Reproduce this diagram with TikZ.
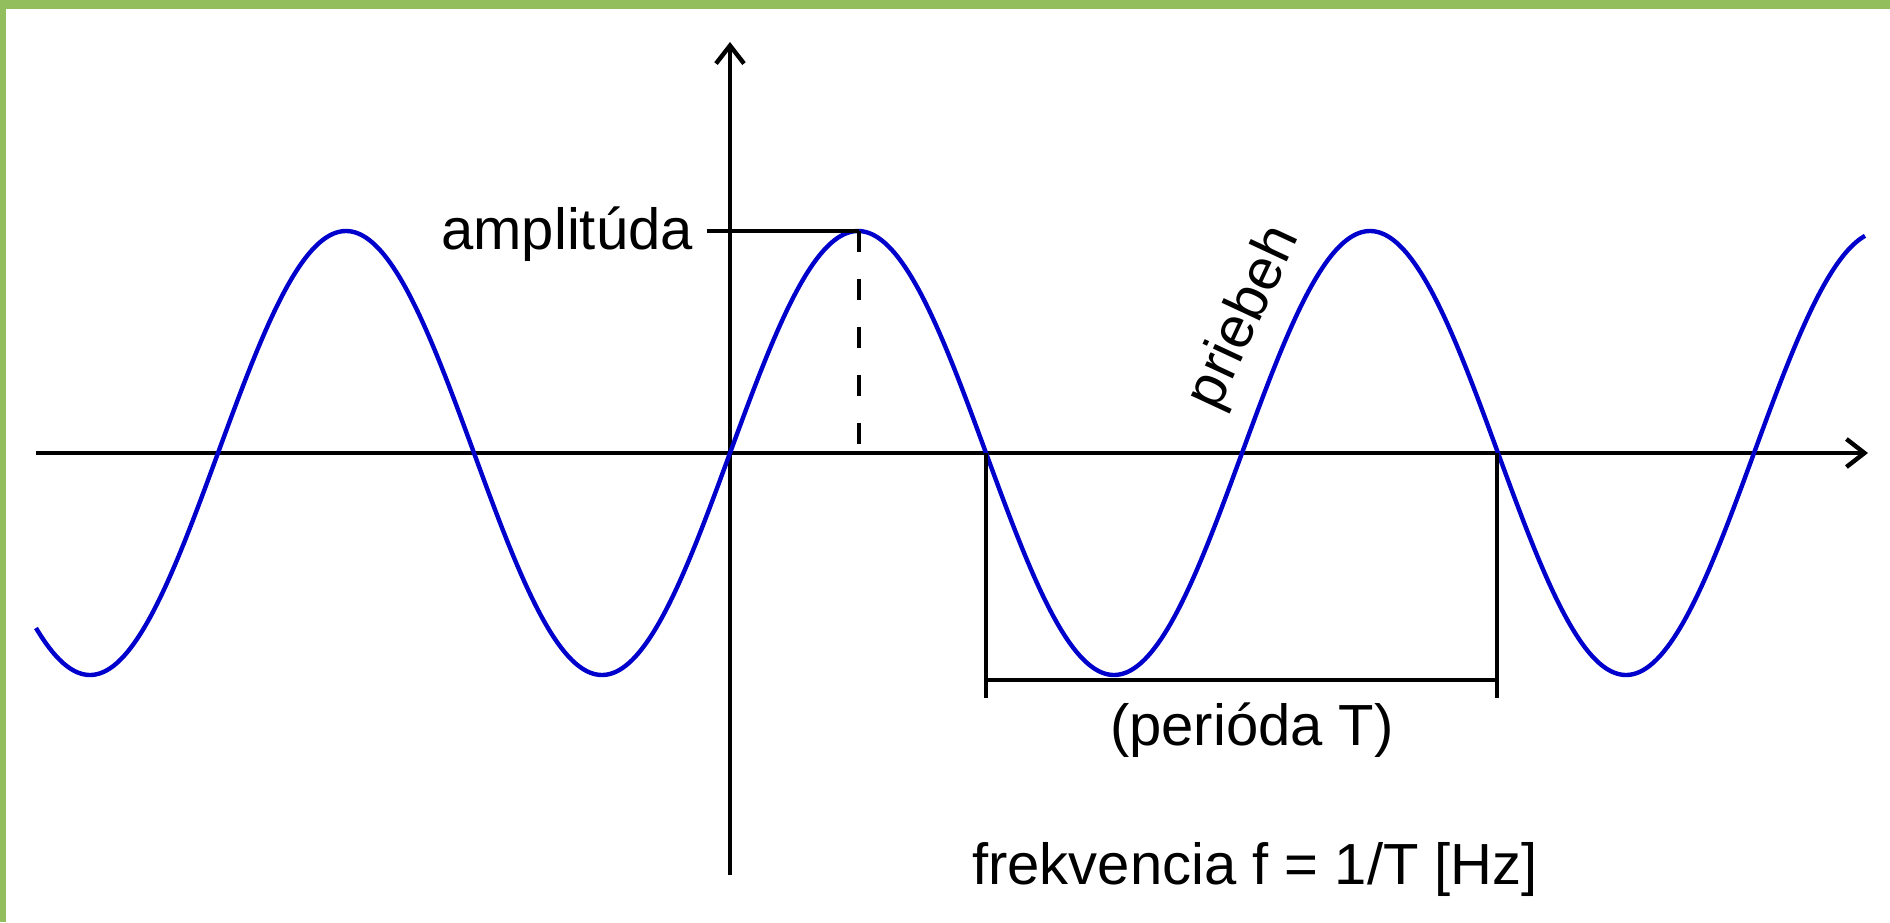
\documentclass[tikz,border=0pt]{standalone}
\usepackage{fontspec}
\setmainfont{Liberation Sans}
\definecolor{frame}{RGB}{146,190,94}
\definecolor{wave}{RGB}{0,0,204}
\usetikzlibrary{arrows.meta}

\begin{document}
\begin{tikzpicture}[x=1pt,y=-1pt,
  axis/.style={line width=4.4pt,-{Straight Barb[length=18pt,width=28pt]}},
  thin line/.style={line width=4pt},
  label/.style={inner sep=0pt,font=\fontsize{58}{70}\selectfont}]
  \useasboundingbox (0,0) rectangle (1890,922);
  %% Frame (top and left edge)
  \fill[frame] (0,0) rectangle (1890,9);
  \fill[frame] (0,0) rectangle (6,922);

  %% Axes
  \coordinate (O) at (730,453);
  \coordinate (xleft) at (36,453);
  \coordinate (xright) at (1868,453);
  \coordinate (ybottom) at (730,875);
  \coordinate (ytop) at (730,42);
  \draw[axis] (xleft) -- (xright);
  \draw[axis] (ybottom) -- (ytop);

  %% Sine wave
  \draw[wave, line width=4.4pt] plot[domain=36:1865, samples=400, smooth]
    (\x, {453-222*sin((\x-730)/512*360)});

  %% Amplitude
  \coordinate (peak) at (859,231);
  \coordinate (peakfoot) at (859,453);
  \node[label, anchor=base east] (amp) at (693,249) {amplitúda};
  \draw[thin line] (amp.east |- peak) ++(14,0) -- (peak);
  \draw[thin line, dash pattern=on 21pt off 27pt] (peak) -- (peakfoot);

  %% Period
  \coordinate (z1) at (986,453);
  \coordinate (z2) at (1497,453);
  \coordinate (b1) at (986,698);
  \coordinate (b2) at (1497,698);
  \draw[thin line] (z1) -- (b1);
  \draw[thin line] (z2) -- (b2);
  \draw[thin line] (986,680) -- (1497,680);
  \node[label, anchor=base] (per) at (1252,745) {(perióda T)};

  %% Labels
  \node[label, rotate=65] (wave) at (1245,318) {priebeh};
  \node[label, anchor=base] (freq) at (1255,884) {frekvencia f = 1/T [Hz]};
\end{tikzpicture}
\end{document}
